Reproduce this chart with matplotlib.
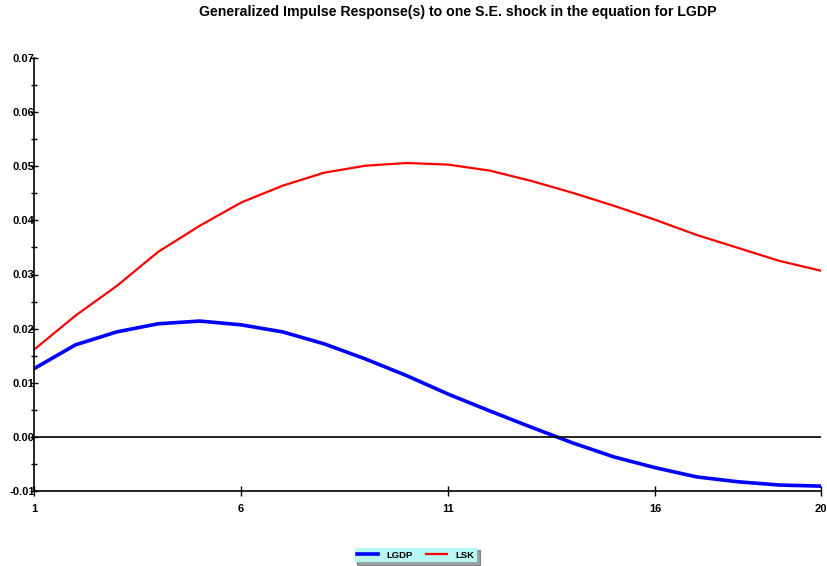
import matplotlib
matplotlib.use("Agg")
import matplotlib.pyplot as plt
from matplotlib.ticker import MultipleLocator

plt.rcParams['font.family'] = ['Liberation Sans', 'DejaVu Sans']

periods = list(range(1, 21))
lgdp = [0.0126, 0.0170, 0.0194, 0.0209, 0.0214, 0.0207, 0.0194, 0.0172, 0.0144, 0.0113,
        0.0079, 0.0048, 0.0018, -0.0011, -0.0037, -0.0057, -0.0074, -0.0083, -0.0089, -0.0091]
lsk = [0.0161, 0.0224, 0.0279, 0.0342, 0.0390, 0.0433, 0.0464, 0.0488, 0.0501, 0.0506,
       0.0503, 0.0492, 0.0473, 0.0451, 0.0427, 0.0401, 0.0373, 0.0349, 0.0325, 0.0307]
xticks = [1, 6, 11, 16, 20]
yticks = [-0.01, 0.00, 0.01, 0.02, 0.03, 0.04, 0.05, 0.06, 0.07]

fig = plt.figure(figsize=(8.28, 5.66), dpi=100)
ax = fig.add_axes([34/828, 1 - 491/566, 787/828, 433/566])

ax.plot(periods, lgdp, color='#0000ff', lw=2.6, label='LGDP')
ax.plot(periods, lsk, color='#ff0000', lw=1.6, label='LSK')
ax.axhline(0, color='black', lw=1.2)

ax.set_xlim(1, 20)
ax.set_ylim(-0.01, 0.07)
ax.set_xticks(xticks)
ax.set_yticks(yticks)
ax.set_yticklabels(['%.2f' % v for v in yticks])
ax.yaxis.set_minor_locator(MultipleLocator(0.005))

ax.spines['top'].set_visible(False)
ax.spines['right'].set_visible(False)
ax.spines['left'].set_linewidth(1.2)
ax.spines['bottom'].set_linewidth(1.2)
ax.tick_params(axis='y', which='major', direction='inout', length=6, width=1,
               labelsize=8, pad=-3.5)
ax.tick_params(axis='y', which='minor', direction='inout', length=5, width=1)
ax.tick_params(axis='x', which='major', direction='inout', length=7, width=1,
               labelsize=8, pad=6)
for lab in ax.get_xticklabels() + ax.get_yticklabels():
    lab.set_fontweight('bold')

fig.suptitle('Generalized Impulse Response(s) to one S.E. shock in the equation for LGDP',
             x=458/828, y=1 - 12/566, va='center', fontsize=10.2, fontweight='bold')

leg = fig.legend(loc='center', bbox_to_anchor=(416/828, 1 - 555/566), ncol=2,
                 frameon=True, fancybox=False, shadow=True,
                 handlelength=2.2, columnspacing=1.4, borderpad=0.3, handletextpad=0.9,
                 prop={'weight': 'bold', 'size': 6.8})
leg.get_frame().set_facecolor('#b8f8f4')
leg.get_frame().set_edgecolor('none')

fig.savefig('out.png', dpi=100)
